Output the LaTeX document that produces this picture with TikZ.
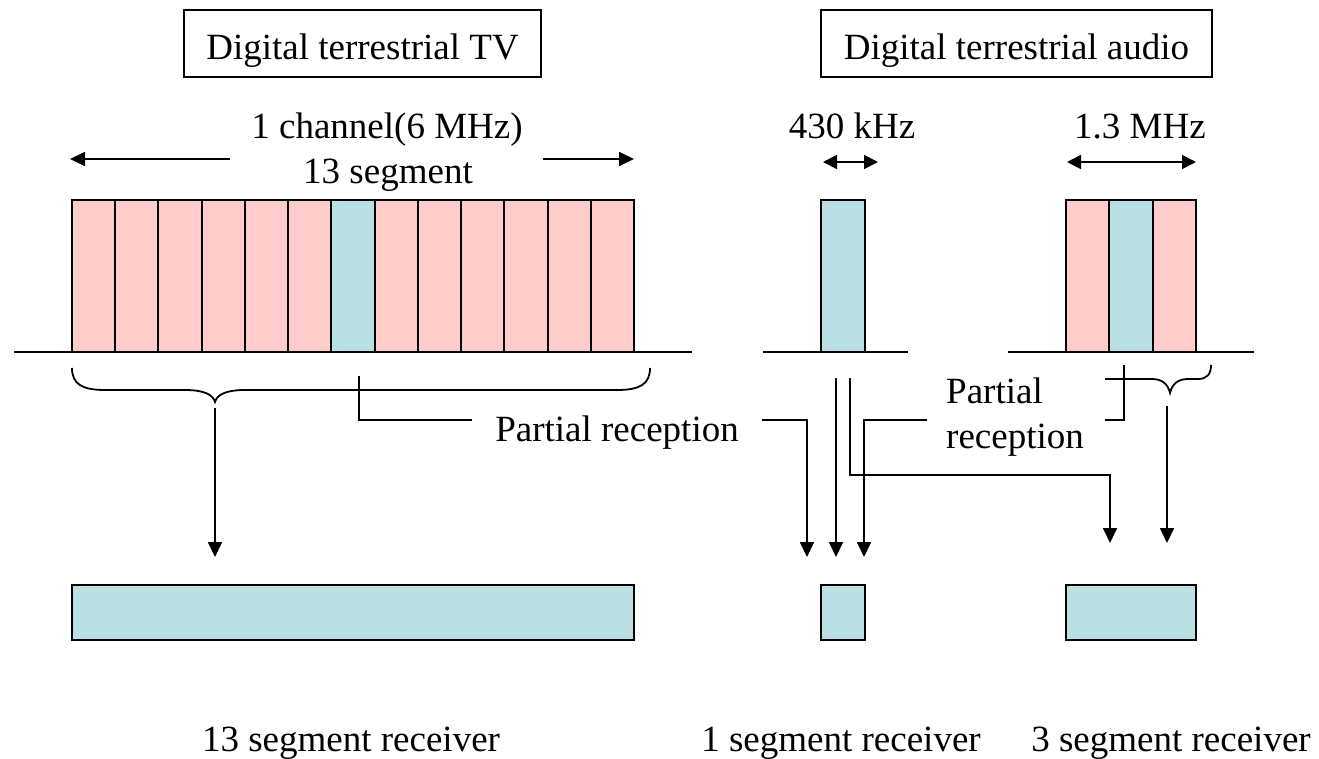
\documentclass[tikz,border=0pt]{standalone}
\usepackage{fontspec}
\setmainfont{Liberation Serif}
\usetikzlibrary{arrows.meta}
\definecolor{segpink}{HTML}{FFCCCC}
\definecolor{segblue}{HTML}{BBE0E3}
\begin{document}
\begin{tikzpicture}[x=1pt,y=-1pt,
  txt/.style={font=\fontsize{37}{45}\selectfont, inner sep=0, anchor=base},
  hdr/.style={draw, line width=1.3pt, inner sep=0, outer sep=0, minimum height=67pt},
  segbox/.style={draw, line width=2pt, inner sep=0, outer sep=0, minimum width=43.23pt, minimum height=152pt, anchor=north west},
  rcv/.style={draw, line width=2pt, fill=segblue, inner sep=0, outer sep=0, minimum height=55pt, anchor=north west},
  conn/.style={line width=1.8pt},
  arr/.style={line width=1.8pt, -{Triangle[width=14pt,length=15pt]}},
  darr/.style={line width=1.8pt, {Triangle[width=14pt,length=14pt]}-{Triangle[width=14pt,length=14pt]}},
  axis/.style={line width=2pt}
]
\useasboundingbox (0,0) rectangle (1319,758);

% header boxes
\node[hdr, minimum width=357pt] (htv) at (362.5,43.5) {};
\node[txt] (htvt) at (362.5,59) {Digital terrestrial TV};
\node[hdr, minimum width=391pt] (hau) at (1016.5,43.5) {};
\node[txt] (haut) at (1016.5,59) {Digital terrestrial audio};

% bandwidth labels
\node[txt] (ch) at (387,138) {1 channel(6 MHz)};
\node[txt] (sg) at (388,183) {13 segment};
\node[txt] (k430) at (852,138) {430 kHz};
\node[txt] (m13) at (1140,138) {1.3 MHz};

\coordinate (tl1) at (230,159); \coordinate (tl2) at (70,159);
\coordinate (tr1) at (543,159); \coordinate (tr2) at (634,159);
\draw[arr] (tl1) -- (tl2);
\draw[arr] (tr1) -- (tr2);
\coordinate (ka) at (823,162); \coordinate (kb) at (878,162);
\draw[darr] (ka) -- (kb);
\coordinate (ma) at (1067,162); \coordinate (mb) at (1196,162);
\draw[darr] (ma) -- (mb);

% axes
\coordinate (ax1a) at (14,352); \coordinate (ax1b) at (692,352);
\coordinate (ax2a) at (763,352); \coordinate (ax2b) at (908,352);
\coordinate (ax3a) at (1008,352); \coordinate (ax3b) at (1254,352);
\draw[axis] (ax1a) -- (ax1b);
\draw[axis] (ax2a) -- (ax2b);
\draw[axis] (ax3a) -- (ax3b);

% 13 segments
\foreach \i in {0,...,12}{
  \ifnum\i=6
    \node[segbox, fill=segblue] (s\i) at ({72+\i*43.23},200) {};
  \else
    \node[segbox, fill=segpink] (s\i) at ({72+\i*43.23},200) {};
  \fi
}
% audio 1 segment
\node[segbox, fill=segblue, minimum width=44pt] (a1) at (821,200) {};
% audio 3 segments
\node[segbox, fill=segpink] (b0) at (1066,200) {};
\node[segbox, fill=segblue] (b1) at (1109.3,200) {};
\node[segbox, fill=segpink] (b2) at (1152.6,200) {};

% receivers
\node[rcv, minimum width=562pt] (r13) at (72,585) {};
\node[rcv, minimum width=44pt] (r1) at (821,585) {};
\node[rcv, minimum width=130pt] (r3) at (1066,585) {};

\node[txt] (l13) at (351,751) {13 segment receiver};
\node[txt] (l1) at (841,751) {1 segment receiver};
\node[txt] (l3) at (1171,751) {3 segment receiver};

% partial reception labels
\node[txt] (pr1) at (617,441) {Partial reception};
\node[txt, anchor=base west] (pr2a) at (946,403) {Partial};
\node[txt, anchor=base west] (pr2b) at (946,448) {reception};

% TV brace
\draw[conn] (72,368) .. controls (72,384) and (82,390) .. (105,390) -- (185,390)
  .. controls (205,390) and (213,395) .. (215,402)
  .. controls (217,395) and (225,390) .. (245,390) -- (617,390)
  .. controls (640,390) and (650,384) .. (650,368);
\coordinate (bt) at (215,408); \coordinate (bte) at (215,557);
\draw[arr] (bt) -- (bte);

% partial reception from TV blue segment
\coordinate (p1a) at (359,376); \coordinate (p1b) at (359,420); \coordinate (p1c) at (472,420);
\draw[conn] (p1a) -- (p1b) -- (p1c);

% to 1 segment receiver
\coordinate (qa) at (762,420); \coordinate (qb) at (807,420); \coordinate (qc) at (807,557);
\draw[arr] (qa) -- (qb) -- (qc);
\coordinate (wa) at (836,378); \coordinate (wb) at (836,557);
\draw[arr] (wa) -- (wb);
\coordinate (ea) at (850,378); \coordinate (eb) at (850,475); \coordinate (ec) at (1110,475); \coordinate (ed) at (1110,543);
\draw[arr] (ea) -- (eb) -- (ec) -- (ed);
\coordinate (ta) at (927,420); \coordinate (tb) at (864,420); \coordinate (tc) at (864,557);
\draw[arr] (ta) -- (tb) -- (tc);

% 3 segment partial reception bracket
\coordinate (ua) at (1124,365); \coordinate (ub) at (1124,420); \coordinate (uc) at (1105,420);
\draw[conn] (ua) -- (ub) -- (uc);
\draw[conn] (1105,379) -- (1152,379)
  .. controls (1162,379) and (1168,384) .. (1170,393)
  .. controls (1172,384) and (1178,379) .. (1188,379) -- (1198,379)
  .. controls (1207,379) and (1211,374) .. (1211,365);
\coordinate (ya) at (1167,406); \coordinate (yb) at (1167,543);
\draw[arr] (ya) -- (yb);
\end{tikzpicture}
\end{document}
